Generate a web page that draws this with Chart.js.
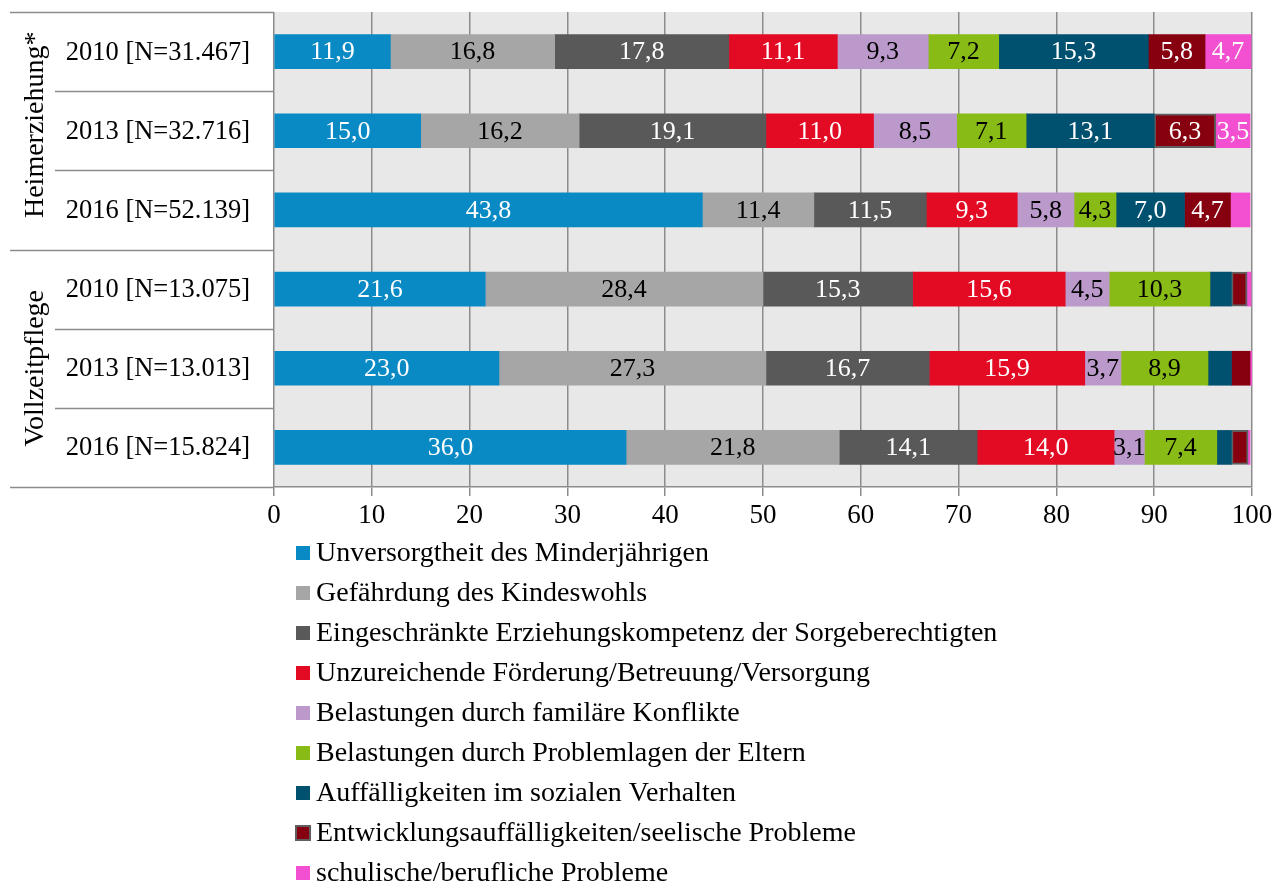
<!DOCTYPE html>
<html>
<head>
<meta charset="utf-8">
<script src="https://cdn.jsdelivr.net/npm/chart.js@4"></script>
<style>
  html, body { margin: 0; padding: 0; background: #fff; }
  #wrap { width: 1287px; height: 884px; }
</style>
</head>
<body>
<div id="wrap"><canvas id="chart" width="1287" height="884"></canvas></div>
<script>
// rows (top to bottom)
const rowLabels = ['2010 [N=31.467]', '2013 [N=32.716]', '2016 [N=52.139]', '2010 [N=13.075]', '2013 [N=13.013]', '2016 [N=15.824]'];
const groupLabels = ['Heimerziehung*', 'Vollzeitpflege'];

// series values in percent
const unversorgtheit = [11.9, 15.0, 43.8, 21.6, 23.0, 36.0];
const gefaehrdung = [16.8, 16.2, 11.4, 28.4, 27.3, 21.8];
const erziehungskompetenz = [17.8, 19.1, 11.5, 15.3, 16.7, 14.1];
const foerderung = [11.1, 11.0, 9.3, 15.6, 15.9, 14.0];
const konflikte = [9.3, 8.5, 5.8, 4.5, 3.7, 3.1];
const problemlagen = [7.2, 7.1, 4.3, 10.3, 8.9, 7.4];
const sozialverhalten = [15.3, 13.1, 7.0, 2.2, 2.4, 1.5];
const entwicklung = [5.8, 6.3, 4.7, 1.6, 1.9, 1.7];
const schulisch = [4.7, 3.5, 2.0, 0.4, 0.3, 0.2];

const xTicks = [0, 10, 20, 30, 40, 50, 60, 70, 80, 90, 100];

const FONT = '"Liberation Serif", "DejaVu Serif", serif';

const series = [
    { label: 'Unversorgtheit des Minderjährigen', data: unversorgtheit, color: '#0a8ac4', text: '#fff' },
    { label: 'Gefährdung des Kindeswohls', data: gefaehrdung, color: '#a6a6a6', text: '#000' },
    { label: 'Eingeschränkte Erziehungskompetenz der Sorgeberechtigten', data: erziehungskompetenz, color: '#595959', text: '#fff' },
    { label: 'Unzureichende Förderung/Betreuung/Versorgung', data: foerderung, color: '#e30a23', text: '#fff' },
    { label: 'Belastungen durch familäre Konflikte', data: konflikte, color: '#bb9acb', text: '#000' },
    { label: 'Belastungen durch Problemlagen der Eltern', data: problemlagen, color: '#88bb16', text: '#000' },
    { label: 'Auffälligkeiten im sozialen Verhalten', data: sozialverhalten, color: '#00506f', text: '#fff' },
    { label: 'Entwicklungsauffälligkeiten/seelische Probleme', data: entwicklung, color: '#870010', text: '#fff', outlined: true },
    { label: 'schulische/berufliche Probleme', data: schulisch, color: '#f250d0', text: '#fff' }
];

const datasets = series.map(s => ({
    label: s.label,
    data: s.data,
    backgroundColor: s.color,
    borderColor: s.outlined ? s.data.map((v, i) => i % 2 === 1 ? '#5f5f5f' : s.color) : s.color,
    borderWidth: s.outlined ? s.data.map((v, i) => i % 2 === 1 ? 2 : 0) : 0,
    borderSkipped: false,
    textColor: s.text,
    outlined: !!s.outlined,
    barThickness: 34
}));

// plot background
const plotBackground = {
    id: 'plotBackground',
    beforeDraw(chart) {
        const { ctx, chartArea: a } = chart;
        ctx.save();
        ctx.fillStyle = '#e8e8e8';
        ctx.fillRect(a.left, a.top, a.right - a.left, a.bottom - a.top);
        ctx.restore();
    }
};

// value labels inside segments
const valueLabels = {
    id: 'valueLabels',
    afterDatasetsDraw(chart) {
        const { ctx } = chart;
        ctx.save();
        ctx.font = '26px ' + FONT;
        ctx.textAlign = 'center';
        ctx.textBaseline = 'middle';
        chart.data.datasets.forEach((ds, di) => {
            const meta = chart.getDatasetMeta(di);
            meta.data.forEach((bar, i) => {
                const v = ds.data[i];
                if (v < 3) return;
                const cx = (bar.x + bar.base) / 2;
                ctx.fillStyle = ds.textColor;
                ctx.fillText(v.toFixed(1).replace('.', ','), cx, bar.y + 1);
            });
        });
        ctx.restore();
    }
};

// row labels, group labels and separator lines on the left
const leftLabels = {
    id: 'leftLabels',
    afterDraw(chart) {
        const { ctx, chartArea: a } = chart;
        const y = chart.scales.y;
        const band = (a.bottom - a.top) / rowLabels.length;
        ctx.save();
        ctx.strokeStyle = '#8c8c8c';
        ctx.lineWidth = 1.5;
        for (let i = 0; i <= rowLabels.length; i++) {
            const yy = Math.round(a.top + band * i) + 0.5;
            const x0 = (i % 3 === 0) ? 10 : 55;
            ctx.beginPath();
            ctx.moveTo(x0, yy);
            ctx.lineTo(a.left, yy);
            ctx.stroke();
        }
        ctx.fillStyle = '#000';
        ctx.font = '26.5px ' + FONT;
        ctx.textAlign = 'right';
        ctx.textBaseline = 'middle';
        rowLabels.forEach((lab, i) => {
            ctx.fillText(lab, 250, y.getPixelForValue(i) + 1);
        });
        ctx.font = '28px ' + FONT;
        ctx.textAlign = 'center';
        groupLabels.forEach((lab, g) => {
            const cy = a.top + band * (g * 3 + 1.5) - (g === 0 ? 6 : 0);
            ctx.save();
            ctx.translate(36, cy);
            ctx.rotate(-Math.PI / 2);
            ctx.fillText(lab, 0, 0);
            ctx.restore();
        });
        ctx.restore();
    }
};

// vertical legend below the chart
const listLegend = {
    id: 'listLegend',
    afterDraw(chart) {
        const { ctx } = chart;
        ctx.save();
        ctx.font = '28px ' + FONT;
        ctx.textBaseline = 'middle';
        ctx.textAlign = 'left';
        chart.data.datasets.forEach((ds, i) => {
            const cy = 553 + i * 40;
            ctx.fillStyle = ds.backgroundColor;
            ctx.fillRect(296, cy - 7, 14, 14);
            if (ds.outlined) {
                ctx.strokeStyle = '#5f5f5f';
                ctx.lineWidth = 2;
                ctx.strokeRect(296, cy - 7, 14, 14);
            }
            ctx.fillStyle = '#000';
            ctx.fillText(ds.label, 316, cy + 1);
        });
        ctx.restore();
    }
};

new Chart(document.getElementById('chart'), {
    type: 'bar',
    data: { labels: rowLabels, datasets },
    plugins: [plotBackground, valueLabels, leftLabels, listLegend],
    options: {
        indexAxis: 'y',
        responsive: false,
        animation: false,
        layout: { padding: { left: 274, right: 35, top: 12, bottom: 347 } },
        plugins: {
            legend: { display: false },
            tooltip: { enabled: false }
        },
        scales: {
            x: {
                stacked: true,
                min: 0,
                max: 100,
                afterBuildTicks(scale) { scale.ticks = xTicks.map(v => ({ value: v })); },
                afterFit(scale) { scale.height = 50; },
                grid: { color: '#8c8c8c', lineWidth: 1.5, tickLength: 9, drawOnChartArea: true },
                border: { display: true, color: '#8c8c8c', width: 1.5 },
                ticks: { color: '#000', font: { family: FONT, size: 27 }, padding: 4 }
            },
            y: {
                stacked: true,
                display: false
            }
        }
    }
});
</script>
</body>
</html>
